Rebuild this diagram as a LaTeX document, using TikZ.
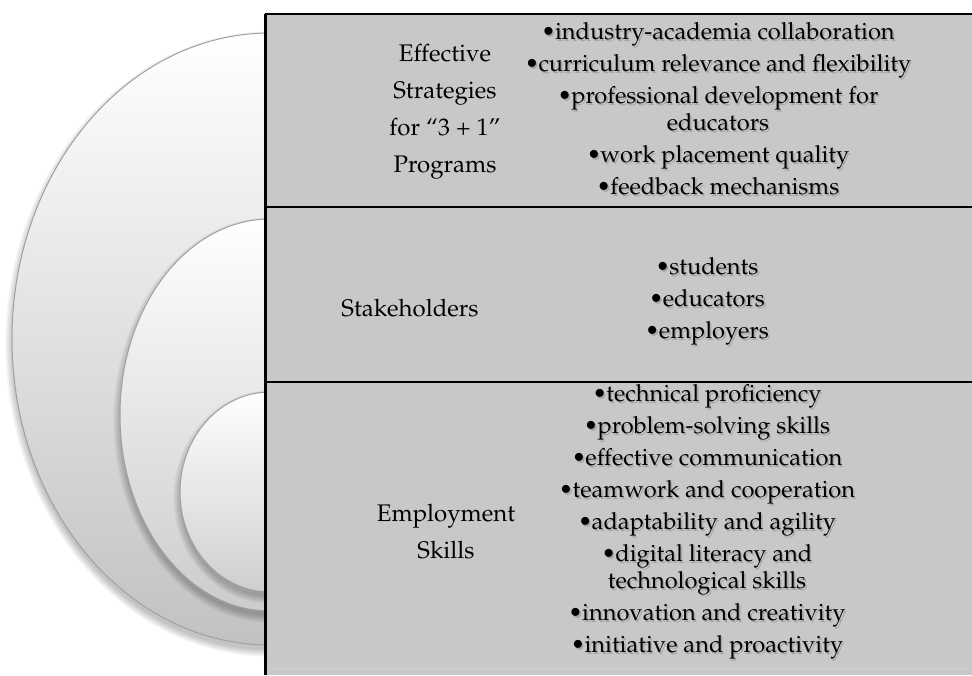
\documentclass[tikz,border=0pt]{standalone}
\usepackage[T1]{fontenc}
\usepackage{mathpazo}
\usetikzlibrary{positioning}
\definecolor{panelgray}{RGB}{200,200,200}
\definecolor{rimgray}{RGB}{160,160,160}

\tikzset{
  ring/.style={draw=rimgray, line width=0.5pt},
  panel/.style={fill=panelgray},
  frame/.style={line width=1pt, black},
  head/.style={align=center, font=\fontsize{12}{18.5}\selectfont, text=black},
  items/.style={align=center, font=\fontsize{11.8}{13.5}\selectfont, text=black},
  ghost/.style={text=black!35, xshift=0.8pt, yshift=-0.9pt},
}

% soft shadow under a ring: centre x, centre y, radii in pt
\newcommand{\ringshadow}[4]{%
  \foreach \k in {0,...,4}
    \fill[black, opacity=0.05] (#1,#2+5) ellipse [x radius=#3pt+\k*0.8pt, y radius=#4pt+\k*0.8pt];
}
% bullet list with a grey drop shadow behind it
\newcommand{\shadowed}[3]{%
  \node[items, ghost] (#1-s) at (#2) {#3};
  \node[items] (#1) at (#2) {#3};
}
\newcommand{\itm}{\textbullet\kern-0.3pt}

\begin{document}
\begin{tikzpicture}[x=0.5pt, y=-0.5pt]
  \useasboundingbox (0,0) rectangle (972,675);
  \clip (0,0) rectangle (972,675);

  % nested rings, largest first
  \ringshadow{270}{339}{129}{153}
  \shade[ring, top color=white, middle color=black!5, bottom color=black!24] (270,339) ellipse [x radius=129pt, y radius=153pt];
  \ringshadow{270}{415}{75}{98}
  \shade[ring, top color=white, middle color=black!4, bottom color=black!20] (270,415) ellipse [x radius=75pt, y radius=98pt];
  \ringshadow{270}{492}{45}{50}
  \shade[ring, top color=white, middle color=black!4, bottom color=black!19] (270,492) ellipse [x radius=45pt, y radius=50pt];

  % panels
  \fill[panel] (265,14) rectangle (972,675);
  \draw[black!20, line width=0.8pt] (265,648) -- (972,648);
  \draw[black!20, line width=0.8pt] (265,669) -- (972,669);
  \draw[frame] (972,14) -- (265,14);
  \draw[frame] (265,207) -- (972,207);
  \draw[frame] (265,382) -- (972,382);
  \draw[frame, line width=1.5pt] (265,14) -- (265,675);

  % Effective strategies
  \node[head] (strat) at (445,112) {Effective\\Strategies\\for ``3 + 1''\\Programs};
  \shadowed{stratlist}{718,109}{\itm industry-academia collaboration\\[2.5pt]
    \itm curriculum relevance and flexibility\\[2.5pt]
    \itm professional development for\\ educators\\[2.5pt]
    \itm work placement quality\\[2.5pt]
    \itm feedback mechanisms}

  % Stakeholders
  \node[head] (stake) at (410,308) {Stakeholders};
  \shadowed{stakelist}{707,301}{\itm students\\[2.5pt]
    \itm educators\\[2.5pt]
    \itm employers}

  % Employment skills
  \node[head] (skills) at (446,532) {Employment\\Skills};
  \shadowed{skilllist}{707,522}{\itm technical proficiency\\[2.5pt]
    \itm problem-solving skills\\[2.5pt]
    \itm effective communication\\[2.5pt]
    \itm teamwork and cooperation\\[2.5pt]
    \itm adaptability and agility\\[2.5pt]
    \itm digital literacy and\\ technological skills\\[2.5pt]
    \itm innovation and creativity\\[2.5pt]
    \itm initiative and proactivity}
\end{tikzpicture}
\end{document}
